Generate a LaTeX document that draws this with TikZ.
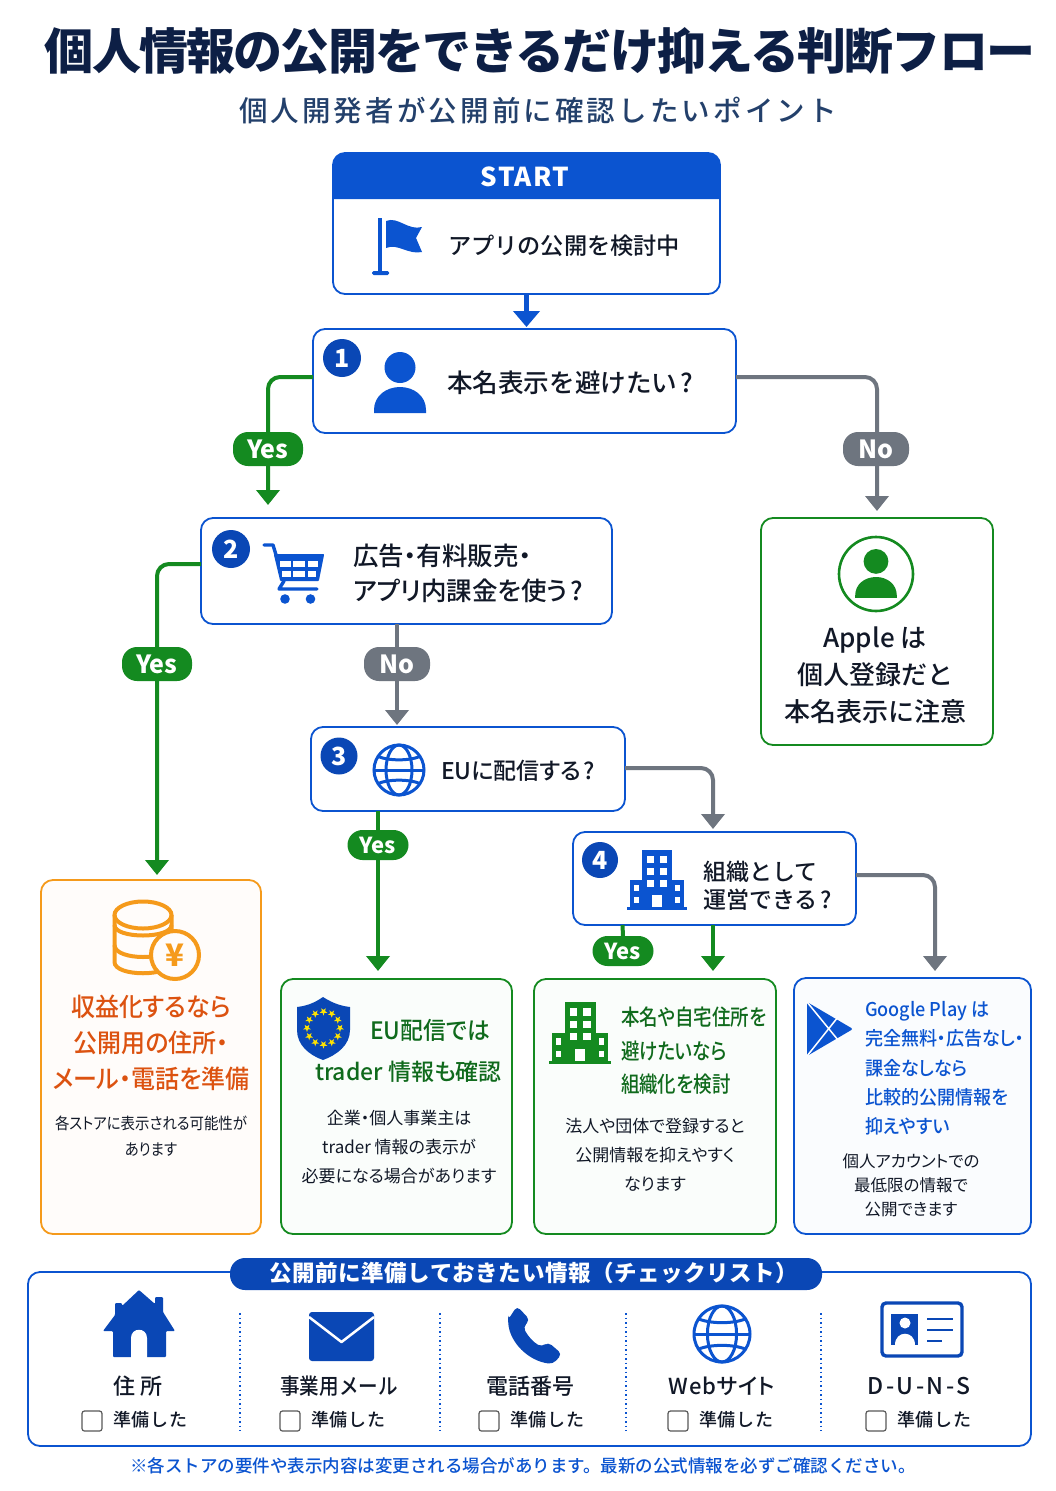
\documentclass[tikz,border=0pt]{standalone}
\usepackage{fontspec}
\usetikzlibrary{arrows.meta,calc}
\setmainfont{Noto Sans CJK JP}
\newfontfamily\jpm{Noto Sans CJK JP}[UprightFont={* Medium}]
\newfontfamily\jpp[RawFeature=+palt]{Noto Sans CJK JP}
\newfontfamily\jppm{Noto Sans CJK JP}[UprightFont={* Medium},RawFeature=+palt]
\newcommand\fsz[2]{\fontsize{#1}{#2}\selectfont}
\newcommand\qm{\kern0.12em?}
\definecolor{navy}{HTML}{0D1F45}
\definecolor{subnavy}{HTML}{23406B}
\definecolor{mainblue}{HTML}{0B54D0}
\definecolor{deepblue}{HTML}{0A47B5}
\definecolor{flowgreen}{HTML}{148A20}
\definecolor{darkgreen}{HTML}{0F6A1C}
\definecolor{flowgray}{HTML}{6E757F}
\definecolor{boxorange}{HTML}{F59A1B}
\definecolor{redorange}{HTML}{DC5210}
\definecolor{inktext}{HTML}{111827}
\tikzset{
  x=1pt,y=-1pt,
  card/.style={draw,line width=1.8pt,rounded corners=12pt,inner sep=0pt,outer sep=0pt,fill=white},
  bluecard/.style={card,draw=mainblue},
  greencard/.style={card,draw=flowgreen},
  tx/.style={inner sep=0pt,outer sep=0pt,text=inktext},
  txl/.style={tx,anchor=west,align=left},
  txc/.style={tx,anchor=center,align=center},
  flow/.style={line width=4pt,rounded corners=12pt,-{Triangle[width=23pt,length=15pt]}},
  gflow/.style={flow,draw=flowgreen},
  nflow/.style={flow,draw=flowgray},
  bflow/.style={line width=4.4pt,draw=mainblue,-{Triangle[width=26pt,length=16pt]}},
  pill/.style={fill=#1,rounded corners=15pt,inner sep=0pt,outer sep=0pt,text=white,font=\bfseries\fsz{25}{25}},
  bigyes/.style={pill=flowgreen,minimum width=70pt,minimum height=34pt},
  smallyes/.style={pill=flowgreen,minimum width=61pt,minimum height=30pt,font=\bfseries\fsz{22}{22}},
  bigno/.style={pill=flowgray,minimum width=66pt,minimum height=34pt},
  badge/.style={circle,fill=deepblue,text=white,inner sep=0pt,outer sep=0pt,minimum size=38pt,font=\bfseries\fsz{25}{25}},
  chk/.style={draw=black!65,line width=1.2pt,fill=white,rounded corners=2.5pt,minimum size=20pt,inner sep=0pt,outer sep=0pt},
  ready/.style={txl,font=\jpm\fsz{18}{18}\addfontfeature{LetterSpace=5}},
  itemlabel/.style={txc,font=\jpm\fsz{22}{22}},
  divider/.style={draw=mainblue,line width=1.3pt,dash pattern=on 1.5pt off 3pt},
  iconline/.style={draw=mainblue,line width=3pt},
}
\newcommand\boxn[6]{\node[#1,minimum width={(#4-#2)*1pt},minimum height={(#5-#3)*1pt}] (#6) at ({(#2+#4)/2},{(#3+#5)/2}) {};}
% person icon: origin at top centre, 52 wide, 61 high
\newcommand\personicon[4]{\begin{scope}[shift={(#1,#2)},scale=#3]
  \fill[#4] (0,15.5) circle (15.5pt);
  \fill[#4] (-26,61) -- (-26,58) .. controls (-26,44) and (-14,35) .. (0,35) .. controls (14,35) and (26,44) .. (26,58) -- (26,61) -- cycle;
\end{scope}}
% globe icon
\newcommand\globeicon[3]{\begin{scope}[shift={(#1,#2)}]
  \draw[iconline] (0,0) circle (#3pt);
  \draw[iconline] (0,0) ellipse ({0.52*#3 pt} and #3pt);
  \draw[iconline] (-#3,0) -- (#3,0);
  \draw[iconline] ({-0.84*#3},{-0.54*#3}) .. controls ({-0.4*#3},{-0.36*#3}) and ({0.4*#3},{-0.36*#3}) .. ({0.84*#3},{-0.54*#3});
  \draw[iconline] ({-0.84*#3},{0.54*#3}) .. controls ({-0.4*#3},{0.36*#3}) and ({0.4*#3},{0.36*#3}) .. ({0.84*#3},{0.54*#3});
\end{scope}}
% building icon: origin top-left, 60 wide, 60 high
\newcommand\buildingicon[4]{\begin{scope}[shift={(#1,#2)},scale=#3]
  \fill[#4] (15,0) rectangle (45,59);
  \fill[#4] (3,30) rectangle (57,59);
  \fill[#4] (0,57) rectangle (60,60);
  \foreach \wx in {20,33}{\foreach \wy in {6,18,30}{\fill[white] (\wx,\wy) rectangle +(7,7);}}
  \foreach \wx in {7,48}{\foreach \wy in {35,47}{\fill[white] (\wx,\wy) rectangle +(5,6);}}
  \fill[white] (25,45) rectangle (35,57);
\end{scope}}
\begin{document}
\begin{tikzpicture}
\useasboundingbox (0,0) rectangle (1055,1491);
\fill[white] (0,0) rectangle (1055,1491);
% titles
\node[tx,text=navy,font=\bfseries\fsz{49}{49}] (title) at (540,51) {\addfontfeature{LetterSpace=-3.7}個人情報の公開をできるだけ抑える判断フロー};
\node[tx,text=subnavy,font=\jpm\fsz{28.5}{28.5}] (subtitle) at (538,111) {\addfontfeature{LetterSpace=11}個人開発者が公開前に確認したいポイント};
% cards
\boxn{bluecard}{333}{153}{720}{294}{start}
\boxn{bluecard}{313}{329}{736}{433}{qone}
\boxn{bluecard}{201}{518}{612}{624}{qtwo}
\boxn{bluecard}{311}{727}{625}{811}{qthree}
\boxn{bluecard}{573}{832}{856}{925}{qfour}
\boxn{greencard}{761}{518}{993}{745}{apple}
\boxn{card,draw=boxorange,fill=orange!2}{41}{880}{261}{1234}{money}
\boxn{greencard,fill=flowgreen!2}{281}{979}{512}{1234}{eubox}
\boxn{greencard,fill=flowgreen!2}{534}{979}{776}{1234}{orgbox}
\boxn{bluecard,fill=mainblue!2}{794}{978}{1031}{1234}{gpbox}
\boxn{bluecard}{28}{1272}{1031}{1446}{checks}
% start header
\fill[mainblue] (333,199) {[rounded corners=12pt] -- (333,153) -- (720,153)} -- (720,199) -- cycle;
\node[tx,text=white,font=\bfseries\fsz{26}{26}] (starttxt) at (525,177) {\addfontfeature{LetterSpace=5}START};
% flag
\fill[mainblue] (378,218) rectangle (382,272);
\fill[mainblue,rounded corners=1.5pt] (372,271) rectangle (389,275);
\fill[mainblue] (386,221) .. controls (398,216) and (408,231) .. (422,227) -- (416,238) -- (422,252) .. controls (408,255) and (398,243) .. (386,248) -- cycle;
\node[txl,font=\jpm\fsz{23.2}{23.2}] (starttext) at (448,246) {アプリの公開を検討中};
% connectors
\draw[bflow,shorten >=2pt] (start.south) -- (start.south |- qone.north);
\draw[gflow,shorten >=13pt] ([yshift=4pt]qone.west) -| ([xshift=67pt]qtwo.north west);
\draw[nflow,shorten >=7pt] ([yshift=4pt]qone.east) -| (apple.north);
\draw[gflow,shorten >=5pt] ([yshift=7pt]qtwo.west) -| ([xshift=6pt]money.north);
\draw[nflow,shorten >=2pt] ([xshift=-9.5pt]qtwo.south) -- ([xshift=-71pt]qthree.north);
\draw[nflow,shorten >=3pt] ([yshift=1pt]qthree.east) -| ([xshift=-1.5pt]qfour.north);
\draw[gflow,shorten >=8pt] ([xshift=-90pt]qthree.south) -- ([xshift=-18.5pt]eubox.north);
\draw[gflow,shorten >=8pt] ([xshift=-1.5pt]qfour.south) -- ([xshift=58pt]orgbox.north);
\draw[nflow,shorten >=7pt] ([yshift=3.5pt]qfour.east) -| ([xshift=22.5pt]gpbox.north);
% pills
\node[bigyes] (yesone) at (268,449) {Yes};
\node[bigno] (noone) at (876,449) {No};
\node[bigyes] (yestwo) at (157,664) {Yes};
\node[bigno] (notwo) at (397,664) {No};
\node[smallyes] (yesthree) at (378,845) {Yes};
\node[smallyes] (yesfour) at (623,951) {Yes};
\draw[flowgreen,line width=4pt] ([xshift=-92pt]qfour.south) -- (yesfour.north);
% question 1
\node[badge] (bone) at (342,358) {1};
\personicon{400}{352}{1}{mainblue}
\node[txl,font=\jpm\fsz{25.6}{25.6}] (qonetxt) at (447,383) {本名表示を避けたい\qm};
% apple card
\draw[flowgreen,line width=2.6pt,fill=white] (876,574) circle (37pt);
\personicon{876}{549}{0.8}{flowgreen}
\node[txc,font=\jpm\fsz{26}{37}] (appletxt) at (875,675) {Apple は\\個人登録だと\\本名表示に注意};
% question 2
\node[badge] (btwo) at (231,549) {2};
\draw[mainblue,line width=3.4pt,line cap=round,line join=round] (264,545) -- (273,545) -- (284,581) -- (279,589) -- (317,589);
\draw[mainblue,fill=mainblue,line width=2pt,line join=round] (275,555) -- (323,555) -- (318,580) -- (281,580) -- cycle;
\foreach \cxa/\cxb/\cya/\cyb in {280/291/561/567,292.5/305/561/567,307.5/318/561/567,282/291/571/577,293/305/571/577,307.5/316/571/577}{\fill[white] (\cxa,\cya) rectangle (\cxb,\cyb);}
\fill[mainblue] (285,599) circle (4.8pt);
\fill[mainblue] (310.5,599) circle (4.8pt);
\node[txl,font=\jppm\fsz{25.5}{35}] (qtwotxt) at (353,573.5) {広告・有料販売・\\アプリ内課金を使う\qm};
% question 3
\node[badge,minimum size=37pt] (bthree) at (339,756) {3};
\globeicon{399}{770}{25}
\node[txl,font=\jppm\fsz{23}{23}] (qthreetxt) at (441,771) {EUに配信する\qm};
% question 4
\node[badge,minimum size=36pt] (bfour) at (600,860) {4};
\buildingicon{627}{850}{1}{mainblue}
\node[txl,font=\jpm\fsz{23}{28}] (qfourtxt) at (703,886) {組織として\\運営できる\qm};
% money card
\begin{scope}[line width=4pt]
  \draw[boxorange,fill=orange!2] (114.5,915) -- (114.5,962) .. controls (114.5,977) and (171.5,977) .. (171.5,962) -- (171.5,915);
  \draw[boxorange] (143,915) ellipse (28.5pt and 13.5pt);
  \draw[boxorange] (114.5,925) .. controls (114.5,939) and (171.5,939) .. (171.5,925);
  \draw[boxorange] (114.5,945) .. controls (114.5,961) and (171.5,961) .. (171.5,945);
\end{scope}
\node[circle,draw=boxorange,line width=4pt,fill=orange!2,minimum size=48pt,inner sep=0pt,text=boxorange,font=\bfseries\fsz{31}{31}] (coin) at (175,955) {¥};
\node[txc,text=redorange,font=\jppm\fsz{25.5}{36}\addfontfeature{FakeStretch=0.94}] (moneyhead) at (151,1043) {収益化するなら\\公開用の住所・\\メール・電話を準備};
\node[txc,font=\jpp\fsz{16}{26}\addfontfeature{FakeStretch=0.9}] (moneybody) at (151,1136) {各ストアに表示される可能性が\\あります};
% EU card
\fill[deepblue] (323,997) .. controls (334,1004) and (342,1006) .. (350,1007) -- (350,1030) .. controls (350,1045) and (337,1055) .. (323,1060) .. controls (309,1055) and (297,1045) .. (297,1030) -- (297,1007) .. controls (305,1006) and (313,1004) .. (323,997) -- cycle;
\foreach \sa in {0,30,...,330}{\fill[yellow!85!orange,shift={($(323.5,1028)+(\sa:16.5pt)$)}] (-90:4pt) -- (-54:1.6pt) -- (-18:4pt) -- (18:1.6pt) -- (54:4pt) -- (90:1.6pt) -- (126:4pt) -- (162:1.6pt) -- (198:4pt) -- (234:1.6pt) -- cycle;}
\node[txl,text=darkgreen,font=\jppm\fsz{24}{24}\addfontfeature{FakeStretch=0.95}] (euheada) at (370,1030) {EU配信では};
\node[txl,text=darkgreen,font=\jppm\fsz{23}{23}] (euheadb) at (315,1072) {trader 情報も確認};
\node[txc,font=\jpp\fsz{17}{29}] (eubody) at (399,1147) {企業・個人事業主は\\trader 情報の表示が\\必要になる場合があります};
% organisation card
\buildingicon{549}{1002}{1.04}{flowgreen}
\node[txl,text=darkgreen,font=\jppm\fsz{22}{33.5}\addfontfeature{FakeStretch=0.84}] (orghead) at (621,1051) {本名や自宅住所を\\避けたいなら\\組織化を検討};
\node[txc,font=\jpp\fsz{17}{29}] (orgbody) at (655,1155) {法人や団体で登録すると\\公開情報を抑えやすく\\なります};
% Google Play card
\fill[mainblue,rounded corners=2pt] (807,1002) -- (853,1029) -- (807,1056) -- cycle;
\draw[white,line width=1.5pt] (807,1002) -- (838,1040);
\draw[white,line width=1.5pt] (807,1056) -- (838,1017);
\node[txl,text=mainblue,font=\jppm\fsz{19}{29.3}\addfontfeature{FakeStretch=0.95}] (gphead) at (865,1068.5) {Google Play は\\完全無料・広告なし・\\課金なしなら\\比較的公開情報を\\抑えやすい};
\node[txc,font=\jpp\fsz{16.5}{24}] (gpbody) at (911,1185) {個人アカウントでの\\最低限の情報で\\公開できます};
% checklist
\node[fill=deepblue,rounded corners=15pt,minimum width=592pt,minimum height=32pt,inner sep=0pt,outer sep=0pt] (checkpill) at (526,1274) {};
\node[tx,text=white,font=\bfseries\fsz{22.5}{22.5}] (checktitle) at (534,1273) {\addfontfeature{LetterSpace=2.6}公開前に準備しておきたい情報（チェックリスト）};
\foreach \dx in {240,440,626,821}{\draw[divider] (\dx,1313) -- (\dx,1431);}
% house
\fill[deepblue,rounded corners=1pt] (139,1290) -- (155,1304) -- (155,1297) -- (163,1297) -- (163,1312) -- (175,1331) -- (166,1331) -- (166,1357) -- (113,1357) -- (113,1331) -- (103,1331) -- (115,1315) -- (115,1303) -- (122,1303) -- (122,1306) -- cycle;
\fill[white] (131,1358) -- (131,1338) .. controls (131,1327) and (147,1327) .. (147,1338) -- (147,1358) -- cycle;
% mail
\fill[deepblue,rounded corners=3pt] (309,1312) rectangle (374,1361);
\draw[white,line width=2.5pt,line join=round] (309,1317) -- (341.5,1342) -- (374,1317);
% phone
\fill[deepblue,rounded corners=4.5pt] (508,1320) -- (517,1306) -- (530,1320) -- (523,1327) .. controls (528,1336) and (533,1342) .. (542,1347) -- (548,1342) -- (562,1354) -- (553,1364) .. controls (528,1361) and (510,1342) .. (508,1320) -- cycle;
% globe
\globeicon{722}{1334}{28}
% id card
\draw[deepblue,line width=3.4pt,rounded corners=4pt] (882,1303) rectangle (962,1356);
\fill[deepblue] (891,1314) rectangle (918,1345);
\fill[white] (905,1323) circle (5.5pt);
\fill[white] (895,1345) .. controls (895,1330) and (915,1330) .. (915,1345) -- cycle;
\foreach \ly/\lx in {1319/953,1330/953,1341/942}{\draw[deepblue,line width=2.8pt] (927,\ly) -- (\lx,\ly);}
% item labels
\node[itemlabel] (itema) at (138,1386) {住 所};
\node[itemlabel,font=\jpm\fsz{22}{22}\addfontfeature{FakeStretch=0.89}] (itemb) at (339,1386) {事業用メール};
\node[itemlabel] (itemc) at (530,1386) {電話番号};
\node[itemlabel,font=\jppm\fsz{22}{22}\addfontfeature{LetterSpace=3}] (itemd) at (722,1386) {Webサイト};
\node[itemlabel,font=\jpm\fsz{23}{23}\addfontfeature{LetterSpace=11}] (iteme) at (919,1386) {D-U-N-S};
\foreach \bx/\tx/\nm in {92/113/a,290/311/b,489/510/c,678/699/d,876/897/e}{
  \node[chk] (chk\nm) at (\bx,1421) {};
  \node[ready] (rdy\nm) at (\tx,1420) {準備した};
}
\node[tx,text=mainblue,font=\jpm\fsz{17.5}{17.5}] (footnote) at (523,1466) {※各ストアの要件や表示内容は変更される場合があります。最新の公式情報を必ずご確認ください。};
\end{tikzpicture}
\end{document}
